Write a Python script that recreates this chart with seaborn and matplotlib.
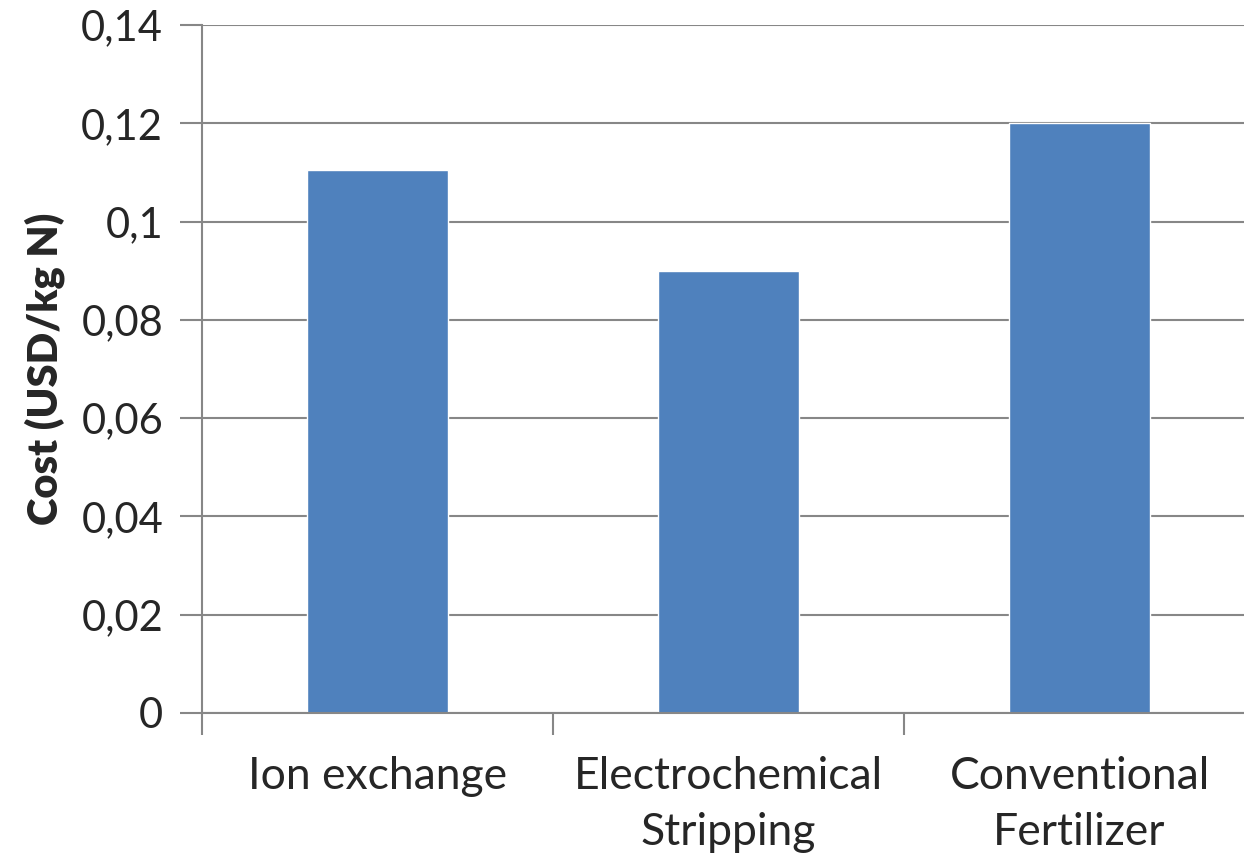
import matplotlib
matplotlib.use("Agg")
import pandas as pd
import seaborn as sns
import matplotlib.pyplot as plt
from matplotlib.ticker import FuncFormatter

# Data
methods = ["Ion exchange", "Electrochemical\nStripping", "Conventional\nFertilizer"]
cost = [0.1105, 0.090, 0.120]

df = pd.DataFrame({"method": methods, "cost": cost})

sns.set_style("white")
plt.rcParams["font.family"] = ["Lato", "DejaVu Sans"]

fig = plt.figure(figsize=(12.44, 8.59), dpi=100)
ax = fig.add_axes([202 / 1244, 146 / 859, 1053 / 1244, 688 / 859])

sns.barplot(data=df, x="method", y="cost", color="#4F81BD", saturation=1,
            width=0.4, ax=ax)

ax.set_xlim(-0.5, 2.5)
ax.set_ylim(0, 0.14)
ax.set_yticks([0, 0.02, 0.04, 0.06, 0.08, 0.1, 0.12, 0.14])
ax.yaxis.set_major_formatter(FuncFormatter(lambda v, p: ("%g" % round(v, 2)).replace(".", ",")))
ax.set_xticks([-0.5, 0.5, 1.5, 2.5], minor=False)
ax.set_xticks([0, 1, 2], minor=True)
ax.set_xticklabels(["", "", "", ""])
ax.set_xticklabels(methods, minor=True, linespacing=1.45)
ax.tick_params(axis="x", which="minor", bottom=True, length=0, pad=31, labelsize=32)
ax.tick_params(axis="x", which="major", bottom=True, length=16, width=1.5, color="#878787")
ax.tick_params(axis="y", left=True, length=16, width=1.5, color="#878787", pad=12, labelsize=30)

ax.grid(axis="y", color="#878787", linewidth=1.5)
ax.set_axisbelow(True)
for s in ["top", "right"]:
    ax.spines[s].set_visible(False)
for s in ["left", "bottom"]:
    ax.spines[s].set_color("#878787")
    ax.spines[s].set_linewidth(1.5)

ax.set_xlabel("")
ax.set_ylabel("Cost (USD/kg N)", fontsize=30, fontweight="heavy", labelpad=12)

fig.savefig("out.png", dpi=100)
